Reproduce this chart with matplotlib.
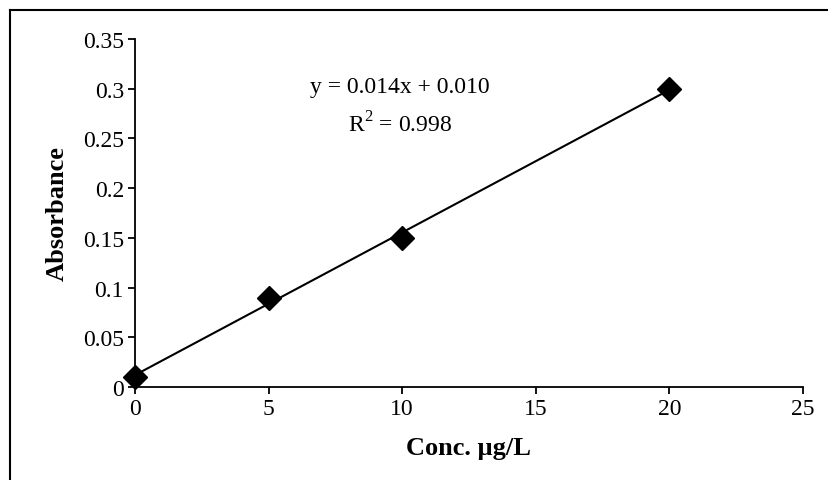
import numpy as np
import matplotlib
matplotlib.use("Agg")
import matplotlib.pyplot as plt
from matplotlib.lines import Line2D

conc = [0, 5, 10, 20]
absorbance = [0.01, 0.09, 0.15, 0.30]
x_ticks = [0, 5, 10, 15, 20, 25]
y_ticks = [0, 0.05, 0.1, 0.15, 0.2, 0.25, 0.3, 0.35]
y_tick_labels = ["0", "0.05", "0.1", "0.15", "0.2", "0.25", "0.3", "0.35"]
equation_text = "y = 0.014x + 0.010"
r2_text = "R$^2$ = 0.998"

plt.rcParams['font.family'] = ['Liberation Serif', 'DejaVu Serif']
plt.rcParams['mathtext.fontset'] = 'custom'
plt.rcParams['mathtext.rm'] = 'Liberation Serif'

fig = plt.figure(figsize=(8.29, 4.81), dpi=100)
ax = fig.add_axes([135/829, 1-388/481, (803-135)/829, (388-40)/481])

slope, intercept = np.polyfit(conc, absorbance, 1)
xf = np.array([min(conc), max(conc)])
ax.plot(xf, slope*xf + intercept, color='black', lw=1.5, zorder=2)
ax.plot(conc, absorbance, linestyle='none', marker='D', markersize=12,
        color='black', zorder=3, clip_on=False)

ax.set_xlim(0, 25)
ax.set_ylim(0, 0.35)
ax.set_xticks(x_ticks)
ax.set_xticklabels([str(t) for t in x_ticks])
ax.set_yticks(y_ticks)
ax.set_yticklabels(y_tick_labels)
ax.tick_params(axis='both', direction='out', length=5, width=1.3,
               labelsize=17, color='black', pad=3)
for s in ['top', 'right']:
    ax.spines[s].set_visible(False)
for s in ['left', 'bottom']:
    ax.spines[s].set_linewidth(1.3)

ax.set_xlabel("Conc. µg/L", fontsize=19, fontweight='bold', labelpad=12)
ax.set_ylabel("Absorbance", fontsize=19, fontweight='bold', labelpad=10)

fig.text(400/829, 1-88/481, equation_text, fontsize=17, ha='center', va='center')
fig.text(400/829, 1-125/481, r2_text, fontsize=17, ha='center', va='center')

# outer frame (top and left edges)
fig.add_artist(Line2D([10/829, 10/829], [0, 1-11/481], transform=fig.transFigure,
                      color='black', lw=1.5))
fig.add_artist(Line2D([10/829, 1], [1-11/481, 1-11/481], transform=fig.transFigure,
                      color='black', lw=1.5))

fig.savefig("out.png", dpi=100)
